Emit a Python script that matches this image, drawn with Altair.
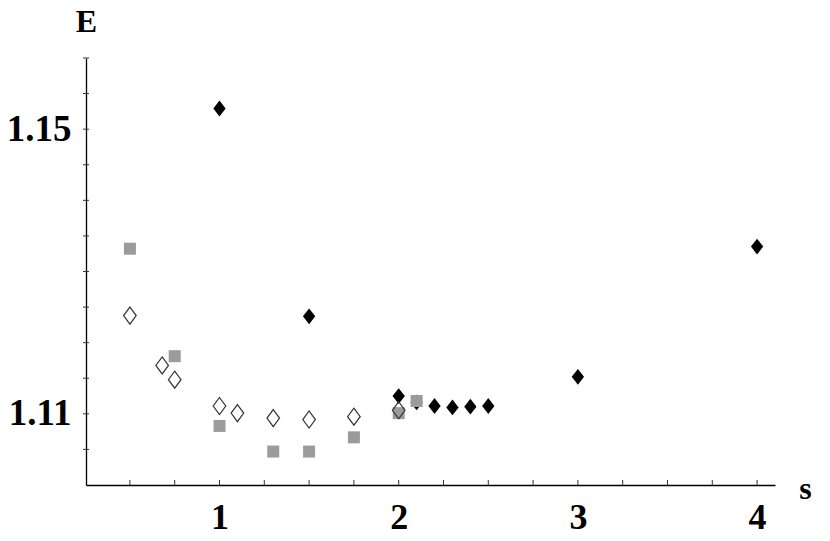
import altair as alt
import pandas as pd

# Series
black_s = [1.0, 1.5, 2.0, 2.1, 2.2, 2.3, 2.4, 2.5, 3.0, 4.0]
black_E = [1.1529, 1.1237, 1.1125, 1.1116, 1.1111, 1.1109, 1.1110, 1.1111, 1.1152, 1.1335]

open_s = [0.5, 0.68, 0.75, 1.0, 1.1, 1.3, 1.5, 1.75, 2.0]
open_E = [1.1238, 1.1168, 1.1148, 1.1111, 1.1101, 1.1094, 1.1092, 1.1096, 1.1105]

gray_s = [0.5, 0.75, 1.0, 1.3, 1.5, 1.75, 2.0, 2.1]
gray_E = [1.1332, 1.1181, 1.1083, 1.1047, 1.1047, 1.1067, 1.1101, 1.1118]

x_tick_vals = [0.5, 0.75, 1.0, 1.25, 1.5, 1.75, 2.0, 2.25, 2.5, 2.75, 3.0, 3.25, 3.5, 3.75, 4.0]
y_tick_vals = [1.105, 1.11, 1.115, 1.12, 1.125, 1.13, 1.135, 1.14, 1.145, 1.15, 1.155, 1.16]
x_labels = [1, 2, 3, 4]
y_labels = [1.11, 1.15]

W, H = 689, 427
FONT = "Liberation Serif"

xs = alt.Scale(domain=[0.255, 4.1], nice=False, zero=False)
ys = alt.Scale(domain=[1.10, 1.16], nice=False, zero=False)

black_df = pd.DataFrame({"s": black_s, "E": black_E})
open_df = pd.DataFrame({"s": open_s, "E": open_E})
gray_df = pd.DataFrame({"s": gray_s, "E": gray_E})
xt_df = pd.DataFrame({"s": x_tick_vals})
yt_df = pd.DataFrame({"E": y_tick_vals})

diamond = "M0,-1L0.78,0L0,1L-0.78,0Z"
odiamond = "M0,-1L0.74,0L0,1L-0.74,0Z"

x_axis = alt.Axis(values=x_labels, ticks=False, grid=False, domainColor="black", domainWidth=1.3,
                  labelFont=FONT, labelFontWeight="bold", labelFontSize=36, labelColor="black",
                  labelPadding=15, labelFlush=False, format="d",
                  title="s", titleFont=FONT, titleFontWeight="bold", titleFontSize=32,
                  titleAngle=0, titleX=719, titleY=13, titleAlign="center",
                  titleBaseline="alphabetic", titleColor="black")
y_axis = alt.Axis(values=y_labels, ticks=False, grid=False, domainColor="black", domainWidth=1.3,
                  labelFont=FONT, labelFontWeight="bold", labelFontSize=37, labelColor="black",
                  labelPadding=15, labelFlush=False, format=".2f",
                  title="E", titleFont=FONT, titleFontWeight="bold", titleFontSize=32,
                  titleAngle=0, titleX=0, titleY=-27, titleAlign="center",
                  titleBaseline="alphabetic", titleColor="black")

base_black = alt.Chart(black_df).mark_point(
    shape=diamond, filled=True, color="black", opacity=1, size=250
).encode(x=alt.X("s:Q", scale=xs, axis=x_axis), y=alt.Y("E:Q", scale=ys, axis=y_axis))

gray = alt.Chart(gray_df).mark_point(
    shape="square", filled=True, color="#9b9b9b", opacity=1, size=144
).encode(x=alt.X("s:Q", scale=xs), y=alt.Y("E:Q", scale=ys))

opn = alt.Chart(open_df).mark_point(
    shape=odiamond, filled=False, color="#333333", strokeWidth=1.2, opacity=1, size=290
).encode(x=alt.X("s:Q", scale=xs), y=alt.Y("E:Q", scale=ys))

xticks = alt.Chart(xt_df).mark_rule(color="#333333", strokeWidth=1).encode(
    x=alt.X("s:Q", scale=xs), y=alt.value(H - 5), y2=alt.value(H)
)
yticks = alt.Chart(yt_df).mark_rule(color="#333333", strokeWidth=1).encode(
    y=alt.Y("E:Q", scale=ys), x=alt.value(-3), x2=alt.value(3)
)

chart = alt.layer(base_black, gray, opn, xticks, yticks).properties(
    width=W, height=H,
    autosize=alt.AutoSizeParams(type="none"),
    padding={"left": 78, "top": 50, "right": 45, "bottom": 53},
    background="white",
).configure_view(stroke=None)

chart.save("out.html", embed_options={"renderer": "svg", "actions": False})
